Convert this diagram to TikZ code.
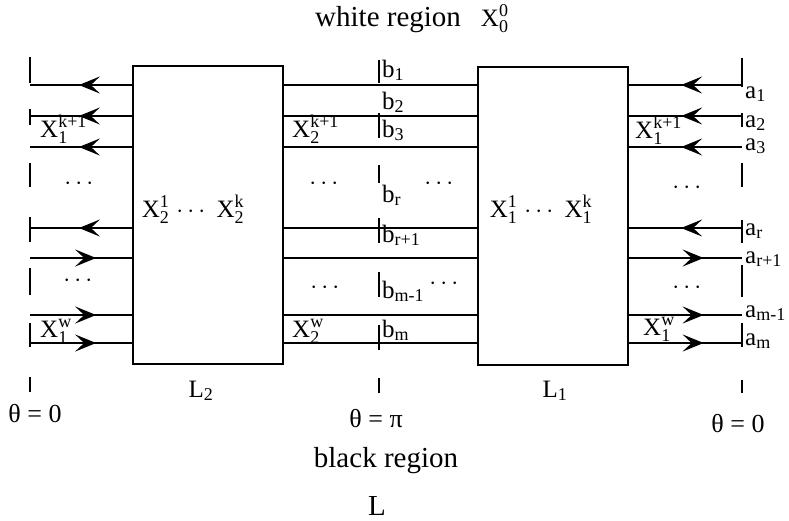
\documentclass[tikz,border=0pt]{standalone}
\usepackage{amsmath}
\usepackage{fontspec}
\setmainfont{Liberation Serif}
\usetikzlibrary{arrows.meta, decorations.markings, positioning}
\DeclareMathSizes{25}{25}{18}{14}

\newcommand{\lbl}[3]{$\text{#1}_{\text{#2}}^{\text{#3}}$}
\newcommand{\ix}[2]{$\text{#1}_{\text{#2}}$}

\tikzset{
  blk/.style={draw, line width=2.4pt, minimum width=150pt, minimum height=298pt, inner sep=0pt},
  wire/.style={line width=2pt},
  tck/.style={line width=1.3pt},
  lab/.style={font=\fontsize{25}{28}\selectfont, inner sep=0pt},
  big/.style={font=\fontsize{29}{32}\selectfont, inner sep=0pt},
  fwd/.style={wire, postaction={decorate},
    decoration={markings, mark=at position #1 with {\arrow{Stealth[length=21pt, width=17pt, inset=9pt]}}}},
}

\begin{document}
\begin{tikzpicture}[x=1pt, y=-1pt]
\useasboundingbox (0,0) rectangle (789,520);

% the two boxes
\node[blk] (L2) at (208,215) {};
\node[blk] (L1) at (553,216) {};
\node[lab, anchor=base] (in2) at (193,217) {\lbl{X}{2}{1}\;$\cdots$\;\lbl{X}{2}{k}};
\node[lab, anchor=base] (in1) at (541,217) {\lbl{X}{1}{1}\;$\cdots$\;\lbl{X}{1}{k}};

\coordinate (lw) at (30,0);
\coordinate (rw) at (742,0);

% wires going left
\foreach \y in {85,116,147,228}{
  \coordinate (p) at (0,\y);
  \draw[fwd=0.52] (L2.west |- p) -- (lw |- p);
  \draw[wire] (L2.east |- p) -- (L1.west |- p);
  \draw[fwd=0.54] (rw |- p) -- (L1.east |- p);
}
% wires going right
\foreach \y in {258,315,343}{
  \coordinate (p) at (0,\y);
  \draw[fwd=0.65] (lw |- p) -- (L2.west |- p);
  \draw[wire] (L2.east |- p) -- (L1.west |- p);
  \draw[fwd=0.66] (L1.east |- p) -- (rw |- p);
}

% cuts at theta=0 and theta=pi
\foreach \a/\b in {57/83,109/125,163/187,217/242,268/295,323/347,377/392}
  \draw[tck] (30,\a) -- (30,\b);
\foreach \a/\b in {60/83,113/138,165/183,218/243,272/297,325/350,378/393}
  \draw[tck] (379,\a) -- (379,\b);
\foreach \a/\b in {58/87,113/127,163/187,220/243,265/297,323/347,380/393}
  \draw[tck] (742,\a) -- (742,\b);

% labels b
\foreach \s/\y [count=\i] in {1/77,2/109,3/137,r/202,r+1/242,m-1/298,m/337}
  \node[lab, anchor=base west] (b\i) at (382,\y) {\ix{b}{\s}};
% labels a
\foreach \s/\y [count=\i] in {1/98,2/127,3/150,r/235,r+1/263,m-1/317,m/345}
  \node[lab, anchor=base west] (a\i) at (745,\y) {\ix{a}{\s}};

% X labels on the strands
\node[lab, anchor=base west] (xl1) at (40,137) {\lbl{X}{1}{k+1}};
\node[lab, anchor=base west] (xl2) at (40,337) {\lbl{X}{1}{w}};
\node[lab, anchor=base west] (xm1) at (292,137) {\lbl{X}{2}{k+1}};
\node[lab, anchor=base west] (xm2) at (292,337) {\lbl{X}{2}{w}};
\node[lab, anchor=base west] (xr1) at (635,138) {\lbl{X}{1}{k+1}};
\node[lab, anchor=base west] (xr2) at (643,335) {\lbl{X}{1}{w}};

% dots
\foreach \x/\y [count=\i] in {81/183,80/280,326/183,327/287,441/183,446/283,689/187,689/287}
  \node[lab, anchor=base] (d\i) at (\x,\y+6) {$\cdots$};

% bottom and top text
\node[lab, anchor=base] (n2) at (201,397) {\ix{L}{2}};
\node[lab, anchor=base] (n1) at (555,397) {\ix{L}{1}};
\node[lab, font=\fontsize{26}{30}\selectfont, anchor=base] (t0) at (35,422) {θ = 0};
\node[lab, font=\fontsize{26}{30}\selectfont, anchor=base] (tp) at (376,427) {θ = π};
\node[lab, font=\fontsize{26}{30}\selectfont, anchor=base] (t1) at (738,432) {θ = 0};
\node[big, anchor=base] (blk) at (386,467) {black region};
\node[big, anchor=base] (ll) at (377,515) {L};
\node[big, anchor=base west] (wht) at (315,26) {white region\hspace{20pt}{\fontsize{25}{28}\selectfont\lbl{X}{0}{0}}};
\end{tikzpicture}
\end{document}
